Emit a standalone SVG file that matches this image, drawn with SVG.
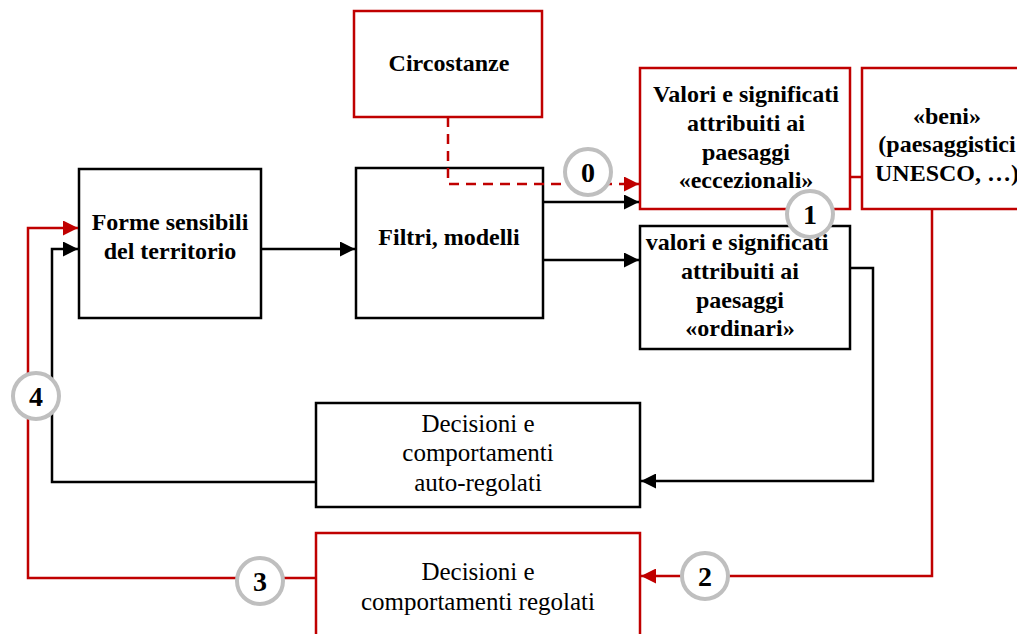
<svg xmlns="http://www.w3.org/2000/svg" width="1017" height="634" viewBox="0 0 1017 634">
<style>
.box{fill:#fff;stroke:#000;stroke-width:2.5}
.rbox{fill:#fff;stroke:#c00000;stroke-width:2.5}
.b{font-family:"Liberation Serif",serif;font-weight:bold;font-size:24px;fill:#000;text-anchor:middle}
.r{font-family:"Liberation Serif",serif;font-size:25px;fill:#000;text-anchor:middle}
.ln{fill:none;stroke:#000;stroke-width:2.5}
.rl{fill:none;stroke:#c00000;stroke-width:2.5}
.badge circle{fill:#fff;stroke:#bfbfbf;stroke-width:4}
.badge text{font-family:"Liberation Serif",serif;font-weight:bold;font-size:28px;fill:#000;text-anchor:middle}
</style>
<defs>
<marker id="ab" viewBox="0 0 10 10" refX="10" refY="5" markerWidth="6" markerHeight="6" markerUnits="strokeWidth" orient="auto"><path d="M0,0 L10,5 L0,10 z" fill="#000"/></marker>
<marker id="ar" viewBox="0 0 10 10" refX="10" refY="5" markerWidth="6" markerHeight="6" markerUnits="strokeWidth" orient="auto"><path d="M0,0 L10,5 L0,10 z" fill="#c00000"/></marker>
</defs>
<rect width="1017" height="634" fill="#fff"/>
<g id="circostanze"><rect class="rbox" x="354" y="11" width="188" height="106"/><text class="b" x="449" y="71">Circostanze</text></g>
<g id="forme"><rect class="box" x="79" y="169" width="182" height="149"/><text class="b" x="170" y="230">Forme sensibili</text><text class="b" x="170" y="259">del territorio</text></g>
<g id="filtri"><rect class="box" x="356" y="168" width="187" height="150"/><text class="b" x="449" y="245">Filtri, modelli</text></g>
<g id="eccezionali"><rect class="rbox" x="640" y="68" width="210" height="141"/><text class="b" x="746" y="102">Valori e significati</text><text class="b" x="746" y="131">attribuiti ai</text><text class="b" x="746" y="160">paesaggi</text><text class="b" x="746" y="188">«eccezionali»</text></g>
<g id="beni"><rect class="rbox" x="862" y="68" width="170" height="141"/><text class="b" x="947" y="124">«beni»</text><text class="b" x="947" y="152">(paesaggistici</text><text class="b" x="947" y="181">UNESCO, …)</text></g>
<g id="ordinari"><rect class="box" x="640" y="226" width="210" height="123"/><text class="b" x="737" y="250">valori e significati</text><text class="b" x="740" y="279">attribuiti ai</text><text class="b" x="740" y="308">paesaggi</text><text class="b" x="740" y="336">«ordinari»</text></g>
<g id="auto"><rect class="box" x="316" y="403" width="324" height="104"/><text class="r" x="478" y="432">Decisioni e</text><text class="r" x="478" y="461">comportamenti</text><text class="r" x="478" y="491">auto-regolati</text></g>
<g id="regolati"><rect class="rbox" x="316" y="533" width="324" height="110"/><text class="r" x="478" y="580">Decisioni e</text><text class="r" x="478" y="610">comportamenti regolati</text></g>
<g id="connectors">
<path class="ln" d="M261,249 H355" marker-end="url(#ab)"/>
<path class="ln" d="M543,202 H639" marker-end="url(#ab)"/>
<path class="ln" d="M543,260 H639" marker-end="url(#ab)"/>
<path class="rl" d="M448,117 V184 H639" stroke-dasharray="10,7" marker-end="url(#ar)"/>
<path class="rl" d="M850,177 H862"/>
<path class="ln" d="M850,268 H873 V481 H641" marker-end="url(#ab)"/>
<path class="ln" d="M316,482 H52 V249 H78" marker-end="url(#ab)"/>
<path class="rl" d="M932,209 V576 H641" marker-end="url(#ar)"/>
<path class="rl" d="M316,578 H28 V228 H78" marker-end="url(#ar)"/>
</g>
<g id="badge0" class="badge"><circle cx="588" cy="172" r="23"/><text x="588" y="182">0</text></g>
<g id="badge1" class="badge"><circle cx="810" cy="214" r="23"/><text x="810" y="224">1</text></g>
<g id="badge2" class="badge"><circle cx="705" cy="576" r="23"/><text x="705" y="586">2</text></g>
<g id="badge3" class="badge"><circle cx="260" cy="581" r="23"/><text x="260" y="591">3</text></g>
<g id="badge4" class="badge"><circle cx="36" cy="396" r="23"/><text x="36" y="406">4</text></g>
</svg>
